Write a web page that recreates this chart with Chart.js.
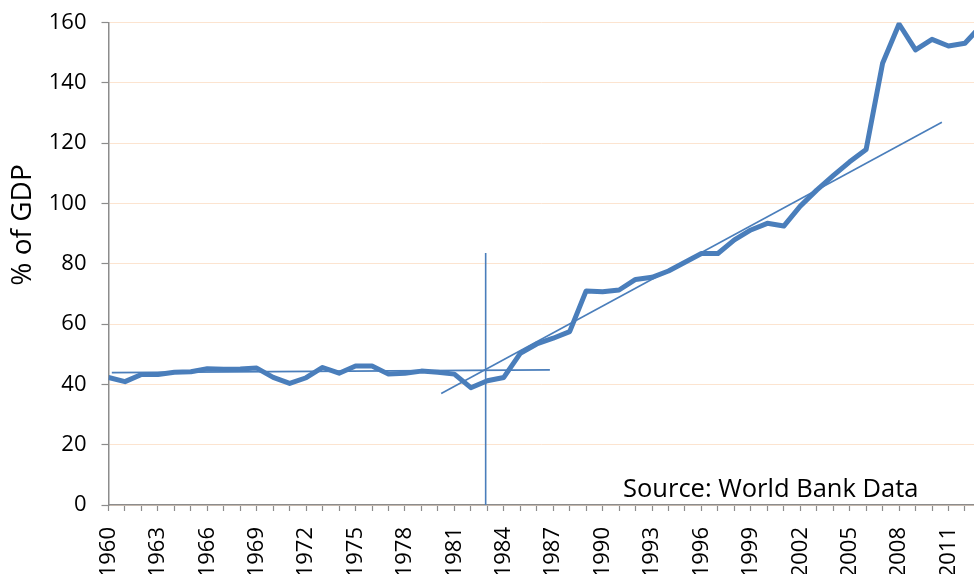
<!doctype html>
<html lang="en">
<head>
    <meta charset="utf-8">
    <title>% of GDP, 1960-2013</title>
    <script src="https://cdn.jsdelivr.net/npm/chart.js"></script>
    <style>
        body { margin: 0; background: #fff; overflow: hidden; }
        #wrap { width: 974px; height: 574px; position: relative; }
    </style>
</head>
<body>
    <div id="wrap">
        <canvas id="chartEl"></canvas>
    </div>
    <script>
        // years 1960 .. 2013 (2013 runs off the right edge, as in the source picture)
        const years = [];
        for (let y = 1960; y <= 2013; y++) years.push(y);

        // % of GDP
        const values = [
            42.3, 40.9, 43.3, 43.3, 44.0, 44.2, 45.2, 45.0, 45.1, 45.4,
            42.3, 40.3, 42.2, 45.6, 43.7, 46.1, 46.1, 43.4, 43.7, 44.4,
            44.0, 43.4, 38.9, 41.2, 42.3, 50.3, 53.4, 55.3, 57.5, 71.0,
            70.7, 71.3, 74.8, 75.5, 77.6, 80.5, 83.4, 83.4, 87.9, 91.2,
            93.4, 92.5, 99.1, 104.4, 109.2, 113.8, 117.9, 146.5, 159.5, 150.9,
            154.4, 152.2, 153.1, 159.0
        ];

        // hand-drawn trend lines: [year, value] end points
        const trendFlat = [[1960.2, 43.9], [1986.8, 44.8]];
        const trendRise = [[1980.2, 37.0], [2010.6, 126.9]];
        const breakLine = [[1982.9, 0], [1982.9, 83.6]];

        const yTicks = [0, 20, 40, 60, 80, 100, 120, 140, 160];
        const yTitle = '% of GDP';
        const sourceNote = 'Source: World Bank Data';

        const blue = 'rgb(74, 126, 187)';
        const axisGrey = '#8c8c8c';
        const font = 'Open Sans';

        const toPoints = (pairs) => pairs.map(([x, y]) => ({ x, y }));

        const textPlugin = {
            id: 'textPlugin',
            afterDraw: (chart) => {
                const ctx = chart.ctx;
                ctx.save();
                ctx.fillStyle = '#000';
                ctx.font = `25.5px "${font}"`;
                ctx.textAlign = 'left';
                ctx.textBaseline = 'alphabetic';
                ctx.fillText(sourceNote, 623, 497);

                ctx.font = `28px "${font}"`;
                ctx.translate(31, 225);
                ctx.rotate(-Math.PI / 2);
                ctx.textAlign = 'center';
                ctx.fillText(yTitle, 0, 0);
                ctx.restore();
            }
        };

        const data = {
            datasets: [{
                label: 'debt',
                data: years.map((y, i) => ({ x: y, y: values[i] })),
                borderColor: blue,
                borderWidth: 5,
                borderJoinStyle: 'round',
                pointRadius: 0,
                tension: 0,
                order: 1
            }, {
                label: 'trend 1960-86',
                data: toPoints(trendFlat),
                borderColor: blue,
                borderWidth: 1.6,
                pointRadius: 0,
                order: 0
            }, {
                label: 'trend 1980-2010',
                data: toPoints(trendRise),
                borderColor: blue,
                borderWidth: 1.6,
                pointRadius: 0,
                order: 0
            }, {
                label: 'break',
                data: toPoints(breakLine),
                borderColor: blue,
                borderWidth: 1.6,
                pointRadius: 0,
                order: 0
            }]
        };

        const config = {
            type: 'line',
            data: data,
            plugins: [textPlugin],
            options: {
                responsive: true,
                maintainAspectRatio: false,
                animation: false,
                layout: { padding: { left: 48, top: 22.5, right: 0, bottom: 0 } },
                plugins: {
                    legend: { display: false },
                    tooltip: { enabled: false }
                },
                scales: {
                    x: {
                        type: 'linear',
                        min: 1960,
                        max: 2012.55,
                        afterFit: (scale) => {
                            scale.height = 69;
                            scale.paddingLeft = 0;
                            scale.paddingRight = 0;
                        },
                        border: { color: axisGrey, width: 1.5 },
                        grid: {
                            drawOnChartArea: false,
                            tickLength: 6,
                            tickColor: axisGrey,
                            tickWidth: 1.2
                        },
                        ticks: {
                            stepSize: 1,
                            autoSkip: false,
                            includeBounds: false,
                            maxRotation: 90,
                            minRotation: 90,
                            padding: 16,
                            color: '#000',
                            font: { family: font, size: 22 },
                            callback: (v) => ((v - 1960) % 3 === 0 ? String(v) : '')
                        }
                    },
                    y: {
                        min: 0,
                        max: 160,
                        afterFit: (scale) => {
                            scale.width = 60.5;
                            scale.paddingTop = 0;
                            scale.paddingBottom = 0;
                        },
                        afterBuildTicks: (scale) => {
                            scale.ticks = yTicks.map((v) => ({ value: v }));
                        },
                        border: { color: axisGrey, width: 1.5 },
                        grid: {
                            color: '#fce4d0',
                            lineWidth: 1,
                            tickLength: 7,
                            tickColor: axisGrey,
                            tickWidth: 1.2
                        },
                        ticks: {
                            padding: 15,
                            color: '#000',
                            font: { family: font, size: 22 }
                        }
                    }
                }
            }
        };

        new Chart(document.getElementById('chartEl'), config);
    </script>
</body>
</html>
